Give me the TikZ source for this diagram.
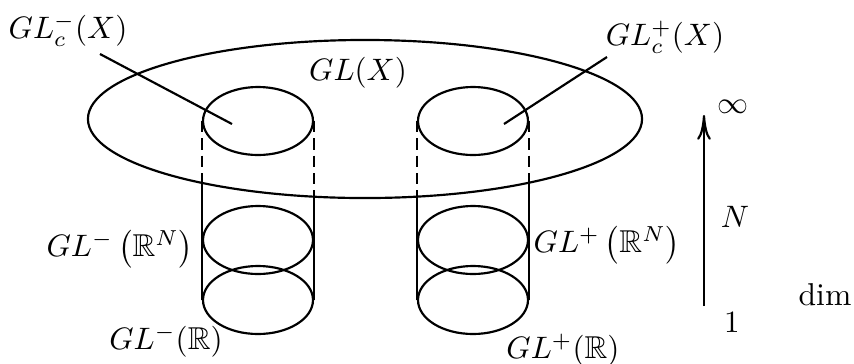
\documentclass[tikz,border=0pt]{standalone}
\usepackage{amsmath,amssymb}
\usepackage{tikz}
\usetikzlibrary{shapes.geometric, arrows.meta}

\begin{document}
\begin{tikzpicture}[
    x=0.01134cm, y=0.01134cm,
    ring/.style={ellipse, draw, line width=0.7pt, inner sep=0pt,
                 minimum width=1.247cm, minimum height=0.771cm},
    wire/.style={line width=0.7pt},
    cut/.style={line width=0.7pt, dash pattern=on 3.6pt off 2pt},
    lbl/.style={inner sep=0pt, font=\fontsize{10.2pt}{12pt}\selectfont},
  ]
    \useasboundingbox (0,0) rectangle (854,363);

    % big set
    \node[ellipse, draw, line width=0.7pt, inner sep=0pt,
          minimum width=6.282cm, minimum height=1.792cm] (GLX) at (365,244) {};

    % left cylinder
    \node[ring] (topL) at (258,242) {};
    \node[ring] (midL) at (258,123) {};
    \node[ring] (botL) at (258,63) {};

    % right cylinder
    \node[ring] (topR) at (473,242) {};
    \node[ring] (midR) at (473,123) {};
    \node[ring] (botR) at (473,63) {};

    % where the sides leave the big set
    \coordinate (cutLW) at (topL.west |- 0,180);
    \coordinate (cutLE) at (topL.east |- 0,166);
    \coordinate (cutRW) at (topR.west |- 0,166);
    \coordinate (cutRE) at (topR.east |- 0,180);

    \draw[cut] (topL.west) -- (cutLW);
    \draw[cut] (topL.east) -- (cutLE);
    \draw[cut] (topR.west) -- (cutRW);
    \draw[cut] (topR.east) -- (cutRE);
    \draw[wire] (cutLW) -- (botL.west);
    \draw[wire] (cutLE) -- (botL.east);
    \draw[wire] (cutRW) -- (botR.west);
    \draw[wire] (cutRE) -- (botR.east);

    % labels
    \node[lbl] (GLcm) at (68,333) {$GL_c^-(X)$};
    \node[lbl] (GLcp) at (665,326) {$GL_c^+(X)$};
    \node[lbl] (GLXl) at (358,290) {$GL(X)$};
    \node[lbl] (GLmN) at (120,114) {$GL^-\left(\mathbb{R}^N\right)$};
    \node[lbl] (GLm1) at (166,22) {$GL^-(\mathbb{R})$};
    \node[lbl] (GLpN) at (607,118) {$GL^+\left(\mathbb{R}^N\right)$};
    \node[lbl] (GLp1) at (563,13) {$GL^+(\mathbb{R})$};

    \coordinate (tipL) at (100,309);
    \coordinate (inL) at (232,239);
    \coordinate (tipR) at (607,306);
    \coordinate (inR) at (504,239);
    \draw[wire] (tipL) -- (inL);
    \draw[wire] (tipR) -- (inR);

    % dimension axis
    \coordinate (dimLo) at (704,57);
    \coordinate (dimHi) at (704,248);
    \draw[wire, -{To[length=8pt, width=4.4pt]}] (dimLo) -- (dimHi);
    \node[lbl] (inft) at (733,256) {$\infty$};
    \node[lbl] (dimN) at (735,146) {$N$};
    \node[lbl] (dimO) at (732,40) {$1$};
    \node[lbl] (dimT) at (825,68) {dim};
\end{tikzpicture}
\end{document}
